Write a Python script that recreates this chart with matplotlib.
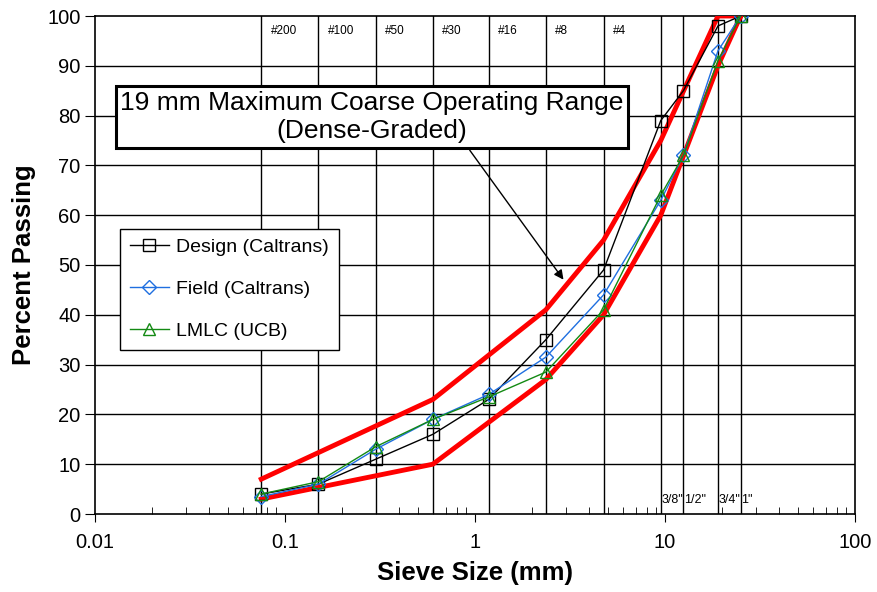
import matplotlib
matplotlib.use("Agg")
import matplotlib.pyplot as plt
import numpy as np
from matplotlib.ticker import FixedLocator, FixedFormatter

plt.rcParams['font.family'] = ['Liberation Sans', 'DejaVu Sans']

sieves = [0.075, 0.15, 0.3, 0.6, 1.18, 2.36, 4.75, 9.5, 12.5, 19, 25]
top_labels = ["#200", "#100", "#50", "#30", "#16", "#8", "#4"]
bottom_labels = ['3/8"', '1/2"', '3/4"', '1"']

design = [4, 6, 11, 16, 23, 35, 49, 79, 85, 98, 100]
field = [3.5, 6, 13, 19, 24, 31.5, 44, 63, 72, 93, 100]
lmlc = [4, 6.5, 13.5, 19, 23.5, 28.5, 41, 64, 72, 91, 100]

upper_x = [0.075, 0.6, 2.36, 4.75, 9.5, 19, 25]
upper_y = [7, 23, 41, 55, 75, 100, 100]
lower_x = [0.075, 0.6, 2.36, 4.75, 9.5, 19, 25]
lower_y = [3, 10, 27, 40, 60, 90, 100]

fig = plt.figure(figsize=(8.78, 5.92), dpi=100)
ax = fig.add_axes([95/878, 78/592, 760/878, 498/592])
ax.set_xscale('log')
ax.set_xlim(0.01, 100)
ax.set_ylim(0, 100)

# grid
for yv in range(10, 100, 10):
    ax.axhline(yv, color='black', lw=1.0, zorder=1)
for s in sieves:
    ax.axvline(s, color='black', lw=1.0, zorder=1)

# labels of sieves
for s, lab in zip(sieves[:7], top_labels):
    ax.text(s * 1.12, 97, lab, fontsize=8.5, ha='left', va='center')
for s, lab in zip(sieves[7:], bottom_labels):
    ax.text(s * 1.01, 2.8, lab, fontsize=9, ha='left', va='center')

ax.plot(upper_x, upper_y, color='#ff0000', lw=3.5, zorder=3)
ax.plot(lower_x, lower_y, color='#ff0000', lw=3.5, zorder=3)

ax.plot(sieves, design, color='black', lw=1, marker='s', ms=8, mfc='none',
        mec='black', label='Design (Caltrans)', zorder=4)
ax.plot(sieves, field, color='#1f6fe0', lw=1, marker='D', ms=7, mfc='none',
        mec='#1f6fe0', label='Field (Caltrans)', zorder=5)
ax.plot(sieves, lmlc, color='#138a13', lw=1, marker='^', ms=9, mfc='none',
        mec='#138a13', label='LMLC (UCB)', zorder=6)

ax.annotate('', xy=(2.98, 46.6), xytext=(0.92, 73.5),
            arrowprops=dict(arrowstyle='-|>', color='black', lw=1,
                            mutation_scale=14), zorder=7)
ax.text(0.287, 79.7, '19 mm Maximum Coarse Operating Range\n(Dense-Graded)',
        fontsize=19, ha='center', va='center', zorder=8, linespacing=1.25,
        bbox=dict(boxstyle='square,pad=0.18', fc='white', ec='black', lw=2.2))

leg = ax.legend(loc='lower left', bbox_to_anchor=(0.033, 0.33), fontsize=14,
                frameon=True, fancybox=False, edgecolor='black', framealpha=1,
                handlelength=2.0, borderpad=0.5, labelspacing=1.25,
                handletextpad=0.4, borderaxespad=0)
leg.get_frame().set_linewidth(1.0)
leg.set_zorder(9)

ax.set_yticks(range(0, 101, 10))
ax.tick_params(axis='both', which='major', labelsize=14.5, direction='out', length=7)
ax.tick_params(axis='x', which='minor', direction='in', length=5)
ax.tick_params(axis='x', which='major', direction='out', length=6, pad=8)
ax.xaxis.set_major_locator(FixedLocator([0.01, 0.1, 1, 10, 100]))
ax.xaxis.set_major_formatter(FixedFormatter(['0.01', '0.1', '1', '10', '100']))
ax.set_xlabel('Sieve Size (mm)', fontsize=18.5, fontweight='bold', labelpad=6)
ax.set_ylabel('Percent Passing', fontsize=18.5, fontweight='bold', labelpad=8)
for sp in ax.spines.values():
    sp.set_linewidth(1.2)

fig.savefig('out.png', dpi=100)
